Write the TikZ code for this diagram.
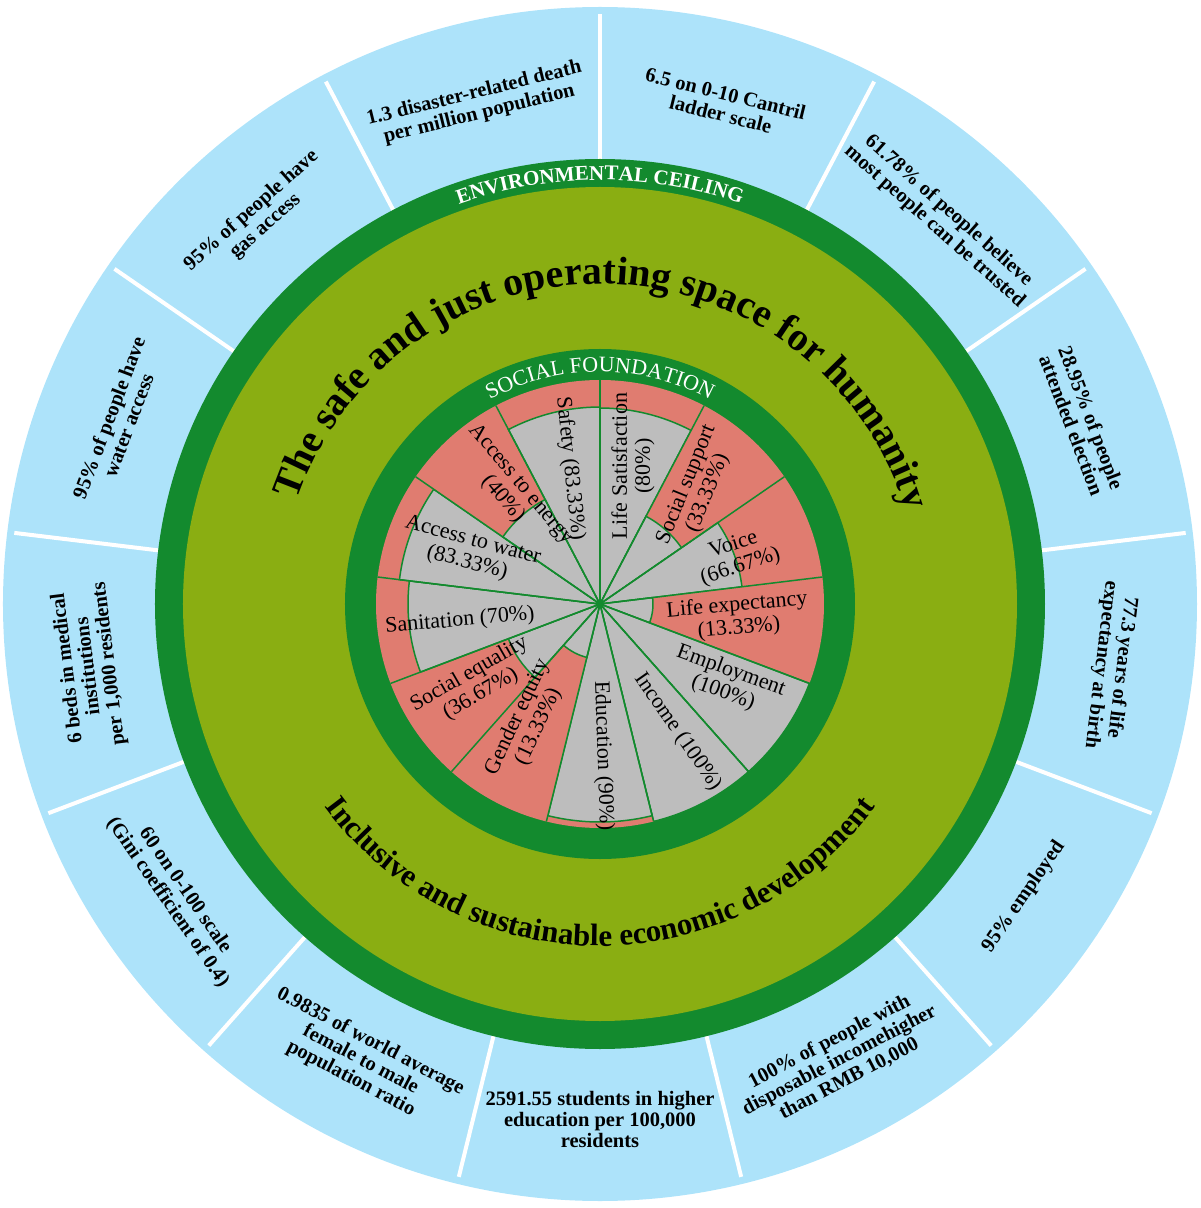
\documentclass[tikz,border=0pt]{standalone}
\usepackage{fontspec}
\setmainfont{Liberation Serif}
\usetikzlibrary{decorations.text}
\definecolor{skyb}{RGB}{173,227,250}
\definecolor{dgreen}{RGB}{19,138,46}
\definecolor{lime}{RGB}{138,174,18}
\definecolor{salmon}{RGB}{224,124,112}
\definecolor{pgrey}{RGB}{189,189,189}
\pgfdeclareradialshading{bluering}{\pgfpoint{0bp}{0bp}}{color(0bp)=(skyb); color(44.5bp)=(skyb); color(50bp)=(white)}
\tikzset{
    outtxt/.style={font=\bfseries\fontsize{20.5}{21}\selectfont, align=center, inner sep=0pt},
    pietxt/.style={font=\fontsize{22}{23}\selectfont, align=center, inner sep=0pt},
}
\begin{document}
\begin{tikzpicture}[x=1pt,y=1pt]
    \useasboundingbox (-600,-604) rectangle (600,604);
    \path[shading=bluering] (0,0) circle (597);
    \foreach \k in {0,...,12} {
        \draw[white, line width=4] ({90+\k*360/13}:445) -- ({90+\k*360/13}:590);
    }
    \foreach \a/\r/\t in {
        103.85/13.85/{1.3 disaster-related death\\per million population},
        76.15/-13.85/{6.5 on 0-10 Cantril\\ladder scale},
        48.46/-41.54/{61.78\% of people believe\\most people can be trusted},
        20.77/-69.23/{28.95\% of people\\attended election},
        -6.92/-96.92/{77.3 years of life\\expectancy at birth},
        -34.62/55.38/{95\% employed},
        -62.31/27.69/{100\% of people with\\disposable incomehigher\\than RMB 10,000},
        -90/0/{2591.55 students in higher\\education per 100,000\\residents},
        -117.69/-27.69/{0.9835 of world average\\female to male\\population ratio},
        -145.38/-55.38/{60 on 0-100 scale\\(Gini coefficient of 0.4)},
        -173.08/96.92/{6 beds in medical\\institutions\\per 1,000 residents},
        159.23/69.23/{95\% of people have\\water access},
        131.54/41.54/{95\% of people have\\gas access}} {
        \node[outtxt, rotate=\r] at (\a:515) {\t};
    }
    % rings
    \fill[dgreen] (0,0) circle (445);
    \fill[lime] (0,0) circle (417);
    \fill[dgreen] (0,0) circle (255);
    % pie
    \foreach \g [count=\i from 0] in {196,99,143,53,224,224,218,55,98,192,202,118,197} {
        \pgfmathsetmacro\aa{90-\i*360/13}
        \pgfmathsetmacro\ab{\aa-360/13}
        \fill[salmon] (0,0) -- (\aa:224) arc[start angle=\aa, end angle=\ab, radius=224] -- cycle;
        \draw[dgreen, line width=1.5, fill=pgrey] (0,0) -- (\aa:\g) arc[start angle=\aa, end angle=\ab, radius=\g] -- cycle;
    }
    \foreach \k in {0,...,12} {
        \draw[dgreen, line width=1.5] (0,0) -- ({90+\k*360/13}:224);
    }
    \fill[dgreen] (0,0) circle (3);
    \foreach \x/\y/\r/\t in {
        -30/135/-84/{Safety (83.33\%)},
        33/138/90/{Life Satisfaction\\(80\%)},
        97/115/68/{Social support\\(33.33\%)},
        137/48/18/{Voice\\(66.67\%)},
        138/-13/5/{Life expectancy\\(13.33\%)},
        127/-78/-20/{Employment\\(100\%)},
        78/-128/-55/{Income (100\%)},
        3/-152/-88/{Education (90\%)},
        -72/-118/65/{Gender equity\\(13.33\%)},
        -125/-80/30/{Social equality\\(36.67\%)},
        -140/-17/5/{Sanitation (70\%)},
        -130/52/-15/{Access to water\\(83.33\%)},
        -88/112/-50/{Access to energy\\(40\%)}} {
        \node[pietxt, rotate=\r] at (\x,\y) {\t};
    }
    % curved titles
    \path[decorate, decoration={text along path, text align=center,
        text={|\bfseries\fontsize{40}{40}\selectfont|The safe and just operating space for humanity}}]
        (164:320) arc[start angle=164, end angle=14, radius=320];
    \path[decorate, decoration={text along path, text align=center,
        text={|\bfseries\fontsize{31}{31}\selectfont|Inclusive and sustainable economic development}}]
        (208:342) arc[start angle=208, end angle=332, radius=342];
    \path[decorate, decoration={text along path, text align=center,
        text={|\color{white}\bfseries\fontsize{21}{21}\selectfont|ENVIRONMENTAL CEILING}}]
        (118:424) arc[start angle=118, end angle=62, radius=424];
    \path[decorate, decoration={text along path, text align=center,
        text={|\color{white}\fontsize{22}{22}\selectfont|SOCIAL FOUNDATION}}]
        (135:232) arc[start angle=135, end angle=45, radius=232];
\end{tikzpicture}
\end{document}
